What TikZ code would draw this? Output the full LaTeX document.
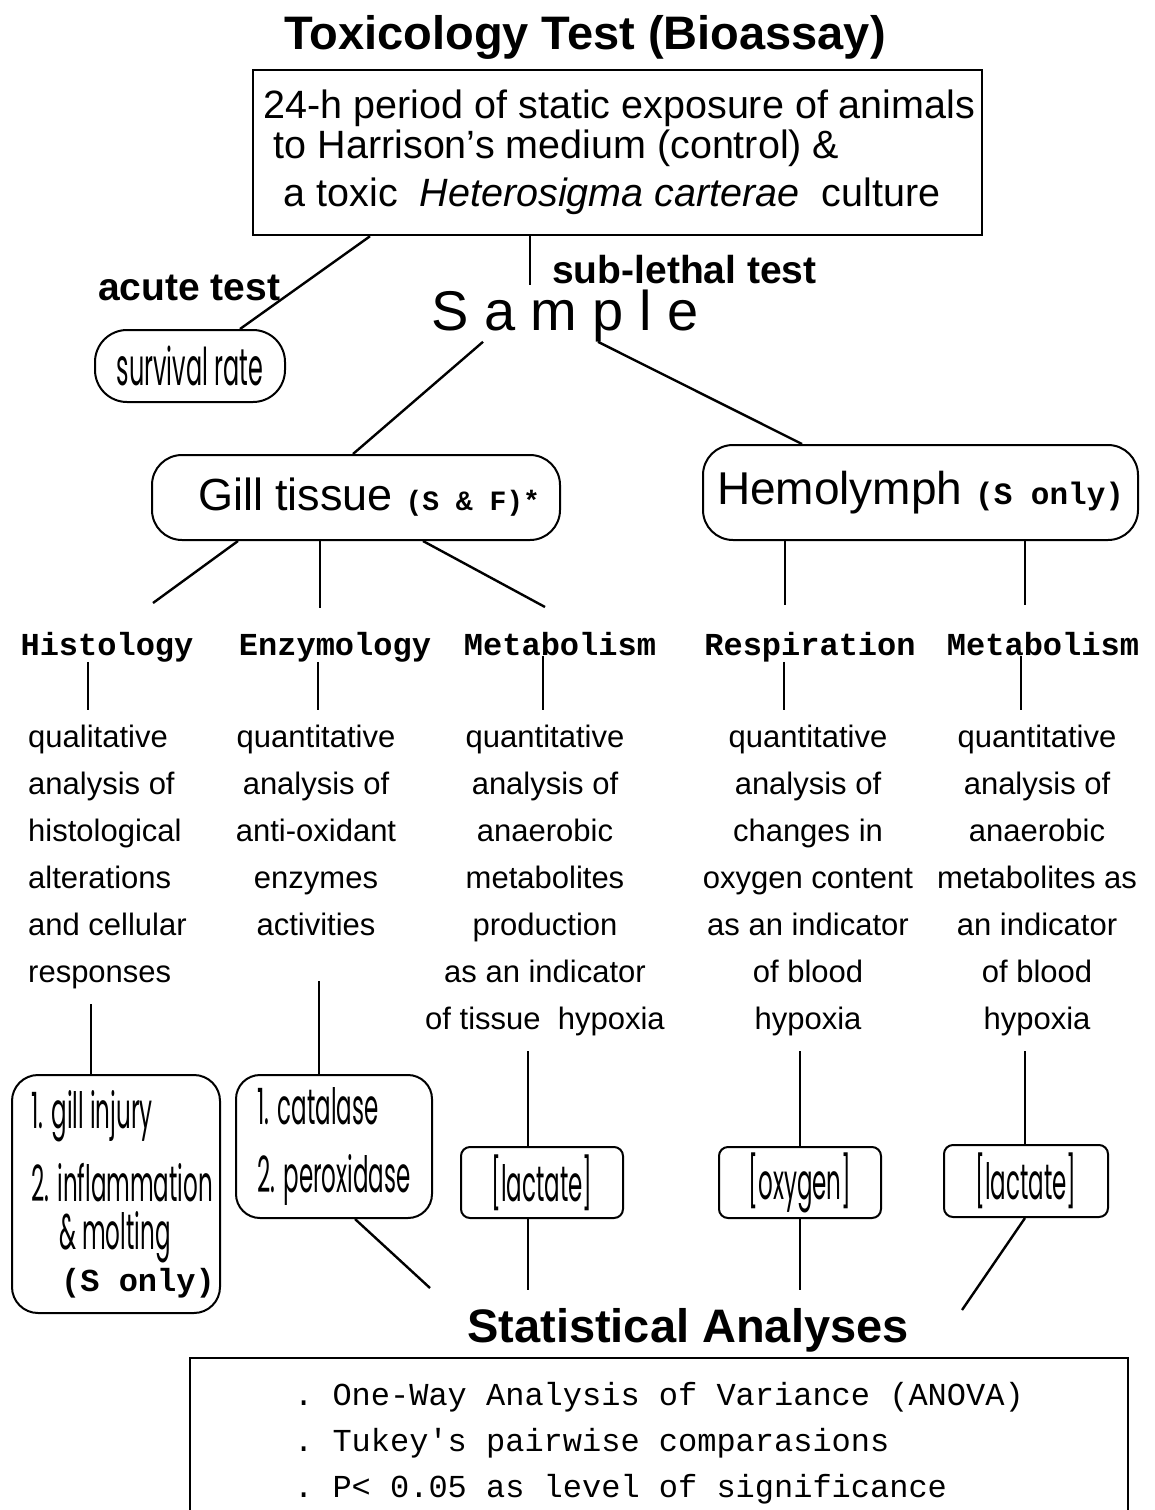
\documentclass[tikz,border=0pt]{standalone}
\usepackage{fontspec}
\setmainfont{Liberation Sans}
\setmonofont{Liberation Mono}
\newfontfamily\thinfont[FakeStretch=0.46]{Poppins}
\usetikzlibrary{positioning}
\newcommand{\fsz}[2]{\fontsize{#1}{#2}\selectfont}
\tikzset{wire/.style={line width=2.4pt},stem/.style={line width=1.4pt},
  rbox/.style={draw,line width=2pt,rounded corners=26pt,inner sep=0pt},
  sbox/.style={draw,line width=2pt,rounded corners=9pt,inner sep=0pt,font=\fsz{50}{48}\thinfont},
  head/.style={font=\fsz{47}{56}\bfseries,inner sep=0pt},
  catlbl/.style={font=\fsz{32}{38}\ttfamily\bfseries,inner sep=0pt,anchor=base},
  col/.style={font=\fsz{31}{47},align=center,anchor=north,inner xsep=0pt,inner ysep=15pt}}

\begin{document}
\begin{tikzpicture}[x=1pt,y=-1pt]
\useasboundingbox (0,0) rectangle (1155,1510);
\clip (0,0) rectangle (1155,1510);
\node[head] (title) at (585,37) {Toxicology Test (Bioassay)};
\node[draw,line width=2.5pt,minimum width=729pt,minimum height=165pt,inner xsep=0pt,
  align=left,font=\fsz{39.5}{43}] (expo) at (617.5,152.5)
  {\hspace*{4pt}24-h period of static exposure of animals\\[-3pt]
   \hspace*{14pt}to Harrison's medium (control) \&\\[5pt]
   \hspace*{24pt}a toxic~ \textit{Heterosigma carterae}~ culture};
\node[font=\fsz{39}{44}\bfseries,anchor=base west,inner sep=0pt] (acute) at (98,300) {acute test};
\node[font=\fsz{39}{44}\bfseries,anchor=base west,inner sep=0pt] (sublethal) at (552,283) {sub-lethal test};
\node[font=\fsz{56}{60},inner sep=0pt,anchor=base] (sample) at (565,330) {S a m p l e};
\node[rbox,minimum width=190pt,minimum height=72pt,rounded corners=32pt,font=\fsz{52}{48}\thinfont] (surv) at (190,366) {survival rate};
\node[rbox,minimum width=408pt,minimum height=85pt,rounded corners=30pt,font=\fsz{45}{50}] (gill) at (356,497.5)
  {\hspace*{26pt}Gill tissue {\fsz{28}{30}\ttfamily\bfseries(S \& F)*}};
\node[rbox,minimum width=435pt,minimum height=95pt,rounded corners=30pt,font=\fsz{46}{50}] (hemo) at (920.5,492.5)
  {Hemolymph {\fsz{31}{34}\ttfamily\bfseries(S only)}};
\node[catlbl] (histo) at (107,655) {Histology};
\node[catlbl] (enzy) at (335,655) {Enzymology};
\node[catlbl] (meta1) at (560,655) {Metabolism};
\node[catlbl] (resp) at (810,655) {Respiration};
\node[catlbl] (meta2) at (1043,655) {Metabolism};
\node[col,align=left,anchor=north west] (col1) at (28,710)
  {qualitative\\analysis of\\histological\\alterations\\and cellular\\responses};
\node[col] (col2) at (316,710) {quantitative\\analysis of\\anti-oxidant\\enzymes\\activities};
\node[col] (col3) at (545,710)
  {quantitative\\analysis of\\anaerobic\\metabolites\\production\\as an indicator\\of tissue~ hypoxia};
\node[col] (col4) at (808,710)
  {quantitative\\analysis of\\changes in\\oxygen content\\as an indicator\\of blood\\hypoxia};
\node[col] (col5) at (1037,710)
  {quantitative\\analysis of\\anaerobic\\metabolites as\\an indicator\\of blood\\hypoxia};
\node[rbox,minimum width=208pt,minimum height=238pt,align=left,font=\fsz{50}{48}\thinfont] (injury) at (116,1194)
  {\hspace*{14pt}1. gill injury\\[20pt]\hspace*{14pt}2. inflammation\\\hspace*{42pt}\& molting\\[-6pt]
   \hspace*{44pt}{\fsz{32}{34}\ttfamily\bfseries(S only)}};
\node[rbox,minimum width=196pt,minimum height=143pt,rounded corners=24pt,align=left,font=\fsz{50}{48}\thinfont] (enzbox) at (334,1146.5)
  {1. catalase\\[20pt]2. peroxidase};
\node[sbox,minimum width=162pt,minimum height=71pt] (lact1) at (542,1182.5) {[lactate]};
\node[sbox,minimum width=162pt,minimum height=71pt] (oxy) at (800,1182.5) {[oxygen]};
\node[sbox,minimum width=164pt,minimum height=72pt] (lact2) at (1026,1181) {[lactate]};
\node[head] (stat) at (688,1330) {Statistical Analyses};
\node[draw,line width=2.5pt,minimum width=938pt,minimum height=170pt,align=left,
  font=\fsz{32}{46}\ttfamily,inner sep=0pt] (tests) at (659,1443)
  {. One-Way Analysis of Variance (ANOVA)\\. Tukey's pairwise comparasions\\. P< 0.05 as level of significance};
\coordinate (sl) at (530,285);
\coordinate (g1) at (153,603);
\coordinate (g2) at (320,608);
\coordinate (g3) at (545,607);
\coordinate (h1) at (785,605);
\coordinate (h2) at (1025,605);
\coordinate (s1) at (430,1288);
\coordinate (s2) at (528,1290);
\coordinate (s3) at (800,1290);
\coordinate (s4) at (962,1310);
\draw[wire] ([xshift=-247.5pt]expo.south) -- ([xshift=50pt]surv.north);
\draw[stem] (sl |- expo.south) -- (sl);
\draw[wire] ([xshift=-82pt]sample.south) -- ([xshift=-3pt]gill.north);
\draw[wire] ([xshift=33pt]sample.south) -- ([xshift=-118.5pt]hemo.north);
\draw[wire] ([xshift=-118pt]gill.south) -- (g1);
\draw[stem] ([xshift=-36pt]gill.south) -- (g2);
\draw[wire] ([xshift=67pt]gill.south) -- (g3);
\draw[stem] ([xshift=-135.5pt]hemo.south) -- (h1);
\draw[stem] ([xshift=104.5pt]hemo.south) -- (h2);
\draw[stem] (88,0 |- histo.south) -- (88,0 |- col1.north);
\draw[stem] (318,0 |- enzy.south) -- (318,0 |- col2.north);
\draw[stem] (543,0 |- meta1.south) -- (543,0 |- col3.north);
\draw[stem] (784,0 |- resp.south) -- (784,0 |- col4.north);
\draw[stem] (1021,0 |- meta2.south) -- (1021,0 |- col5.north);
\draw[stem] (91,0 |- col1.south) -- (91,0 |- injury.north);
\draw[stem,shorten <=30pt] (319,0 |- col2.south) -- (319,0 |- enzbox.north);
\draw[stem] (528,0 |- col3.south) -- (528,0 |- lact1.north);
\draw[stem] (800,0 |- col4.south) -- (800,0 |- oxy.north);
\draw[stem] (1025,0 |- col5.south) -- (1025,0 |- lact2.north);
\draw[wire] (355,0 |- enzbox.south) -- (s1);
\draw[stem] (528,0 |- lact1.south) -- (s2);
\draw[stem] (800,0 |- oxy.south) -- (s3);
\draw[wire] (1025,0 |- lact2.south) -- (s4);
\end{tikzpicture}
\end{document}
